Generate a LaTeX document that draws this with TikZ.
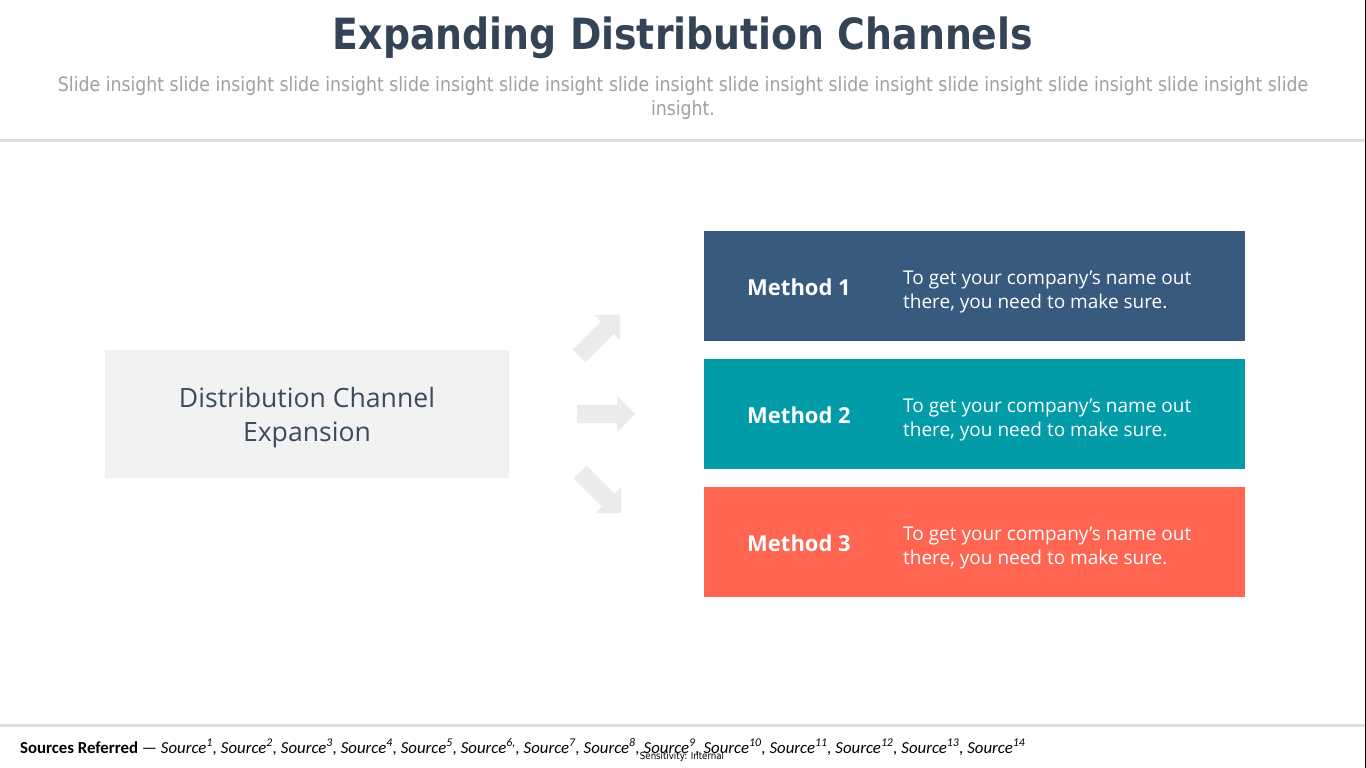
\documentclass[tikz,border=0pt]{standalone}
\usepackage{fontspec}
\setmainfont{Open Sans}
\newfontfamily\titlefont[FakeStretch=0.88]{DejaVu Sans}
\newfontfamily\footfont{Carlito}
\usetikzlibrary{positioning}
\definecolor{TitleBlue}{HTML}{344457}
\definecolor{MethodA}{HTML}{375A7E}
\definecolor{MethodB}{HTML}{029BA8}
\definecolor{MethodC}{HTML}{FF6551}
\definecolor{PaleGray}{HTML}{F2F2F2}
\definecolor{ArrowGray}{HTML}{EBEBEB}
\definecolor{RuleGray}{HTML}{DDDDDD}
\definecolor{InsightGray}{HTML}{A0A0A0}
\definecolor{ChannelText}{HTML}{3B4A5E}
\newcommand{\FlowArrow}[2]%
% tail centre, angle
{   \fill[ArrowGray, shift={#1}, rotate=#2]
	(0,-9) -- (40,-9) -- (40,-18) -- (58,0) -- (40,18) -- (40,9) -- (0,9) -- cycle;
}
\begin{document}
\begin{tikzpicture}[x=1pt,y=-1pt,
	methodbox/.style={minimum width=541pt,minimum height=110pt,inner sep=0pt,anchor=north west},
	methodname/.style={font=\bfseries\fontsize{22}{26}\selectfont,text=white,anchor=west,inner sep=0pt},
	methodtext/.style={font=\fontsize{19}{24}\selectfont,text=white,anchor=west,align=left,inner sep=0pt}]
	\useasboundingbox (0,0) rectangle (1366,768);
	\fill[white] (0,0) rectangle (1366,768);
	\node[anchor=base,font=\titlefont\bfseries\fontsize{43}{50}\selectfont,text=TitleBlue] (title) at (683,50) {Expanding Distribution Channels};
	\node[anchor=base,align=center,font=\titlefont\fontsize{19.7}{24}\selectfont,text=InsightGray] (insight) at (683,115)
	{Slide insight slide insight slide insight slide insight slide insight slide insight slide insight slide insight slide insight slide insight slide insight slide\\insight.};
	\draw[RuleGray,line width=3pt] (0,140) -- (1366,140);
	\draw[RuleGray,line width=3pt] (0,725) -- (1366,725);
	\draw[black,line width=1.5pt] (1365.25,0) -- (1365.25,768);
	\node[fill=PaleGray,minimum width=404pt,minimum height=128pt] (channel) at (307,414) {};
	\node[align=center,text=ChannelText,font=\fontsize{26.6}{34}\selectfont] (channel-text) at (307,418) {Distribution Channel\\Expansion};
	\FlowArrow{(579,356)}{45}
	\FlowArrow{(577,414)}{0}
	\FlowArrow{(580,472)}{-45}
	\foreach \c [count=\i] in {MethodA,MethodB,MethodC}
	{   \node[methodbox,fill=\c] (m\i) at (704,{231+(\i-1)*128}) {};
		\node[methodname] (m\i-name) at ([xshift=43pt,yshift=-1pt]m\i.west) {Method \i};
		\node[methodtext] (m\i-text) at ([xshift=199pt,yshift=-6pt]m\i.west) {To get your company’s name out\\there, you need to make sure.};
	}
	\node[anchor=base west,inner sep=0pt,font=\footfont\fontsize{16.8}{20}\selectfont] (sources) at (20,753)
	{\textbf{Sources Referred} — \textit{Source\textsuperscript{1}, Source\textsuperscript{2}, Source\textsuperscript{3}, Source\textsuperscript{4}, Source\textsuperscript{5}, Source\textsuperscript{6,}, Source\textsuperscript{7}, Source\textsuperscript{8}, Source\textsuperscript{9}, Source\textsuperscript{10}, Source\textsuperscript{11}, Source\textsuperscript{12}, Source\textsuperscript{13}, Source\textsuperscript{14}}};
	\node[inner sep=0pt,font=\titlefont\fontsize{9.8}{11}\selectfont] (sensitivity) at (682,757) {Sensitivity: Internal};
\end{tikzpicture}
\end{document}
